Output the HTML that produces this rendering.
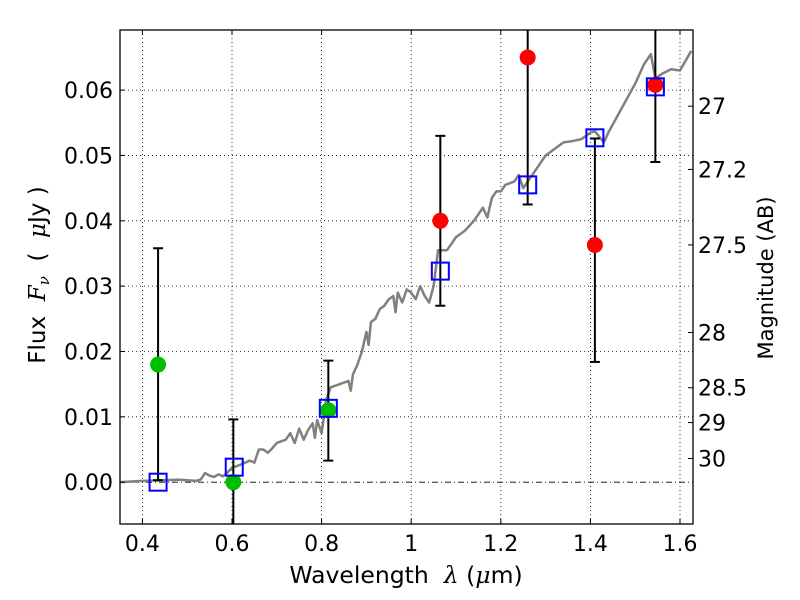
<!DOCTYPE html>
<html><head><meta charset="utf-8"><style>
body{margin:0;background:#fff;}
svg{display:block;font-family:"DejaVu Sans","Liberation Sans",sans-serif;}
</style></head><body>
<svg id="chart" width="800" height="600" viewBox="0 0 800 600" xmlns="http://www.w3.org/2000/svg">
<rect width="800" height="600" fill="#fff"/>
<g id="grid"></g>
<g id="spec"></g>
<g id="marks"></g>
<g id="axes"></g>
<text x="406" y="583" font-size="23.5" text-anchor="middle" xml:space="preserve">Wavelength  <tspan font-style="italic" font-family="DejaVu Serif,serif">λ</tspan> (<tspan font-style="italic" font-family="DejaVu Serif,serif">μ</tspan>m)</text>
<text transform="translate(45,275) rotate(-90)" font-size="23" text-anchor="middle" xml:space="preserve">Flux  <tspan font-style="italic" font-family="DejaVu Serif,serif">F<tspan font-size="15" dy="4">ν</tspan></tspan><tspan dy="-4">  (  </tspan><tspan font-style="italic" font-family="DejaVu Serif,serif">μ</tspan>Jy )</text>
<text transform="translate(773,278) rotate(-90)" font-size="21" text-anchor="middle">Magnitude (AB)</text>
</svg>
<script>
const xTicks=[0.4,0.6,0.8,1.0,1.2,1.4,1.6];
const xTickLabels=["0.4","0.6","0.8","1","1.2","1.4","1.6"];
const yTicks=[0,0.01,0.02,0.03,0.04,0.05,0.06];
const yTickLabels=["0.00","0.01","0.02","0.03","0.04","0.05","0.06"];
const magTicks=[27,27.2,27.5,28,28.5,29,30];
const magTickLabels=["27","27.2","27.5","28","28.5","29","30"];
const specWave=[0.35,0.40,0.45,0.48,0.50,0.52,0.53,0.54,0.55,0.56,0.57,0.58,0.59,0.60,0.62,0.63,0.64,0.65,0.66,0.67,0.68,0.69,0.70,0.72,0.73,0.74,0.75,0.76,0.77,0.78,0.785,0.79,0.80,0.805,0.81,0.82,0.84,0.86,0.865,0.87,0.88,0.89,0.90,0.905,0.91,0.92,0.93,0.94,0.95,0.96,0.965,0.97,0.98,0.99,1.00,1.01,1.02,1.03,1.04,1.05,1.06,1.07,1.08,1.09,1.10,1.12,1.14,1.16,1.17,1.18,1.19,1.2,1.21,1.23,1.24,1.25,1.26,1.28,1.30,1.32,1.34,1.36,1.38,1.40,1.41,1.43,1.44,1.46,1.48,1.50,1.52,1.535,1.545,1.56,1.58,1.60,1.625];
const specFlux=[0,0.0002,0.0003,0.0004,0.0003,0.0002,0.0004,0.0014,0.0010,0.0008,0.0012,0.0009,0.0015,0.0022,0.0027,0.0030,0.0033,0.0030,0.0050,0.0050,0.0045,0.0052,0.0060,0.0065,0.0075,0.0060,0.0082,0.0065,0.0080,0.0090,0.0068,0.0095,0.0075,0.0100,0.0125,0.0145,0.0150,0.0155,0.0140,0.0165,0.0180,0.0200,0.0230,0.0210,0.0245,0.0250,0.0265,0.0270,0.0280,0.0285,0.0260,0.0290,0.0275,0.0295,0.0290,0.0280,0.0300,0.0285,0.0275,0.0300,0.0355,0.0355,0.0355,0.0365,0.0375,0.0385,0.0400,0.0420,0.0405,0.0435,0.0445,0.0445,0.0455,0.0460,0.0470,0.0450,0.0460,0.0480,0.0500,0.0510,0.0520,0.0522,0.0525,0.0535,0.0537,0.0520,0.0535,0.0560,0.0585,0.0610,0.0640,0.0655,0.0618,0.0625,0.0632,0.0630,0.0660];
const greenWave=[0.435,0.603,0.815];
const greenFlux=[0.018,0.0000,0.011];
const greenLo=[0.0003,-0.02,0.0033];
const greenHi=[0.0358,0.0096,0.0186];
const redWave=[1.065,1.26,1.41,1.545];
const redFlux=[0.040,0.065,0.0363,0.0608];
const redLo=[0.027,0.0425,0.0184,0.049];
const redHi=[0.053,0.09,0.0526,0.09];
const modelWave=[0.435,0.605,0.815,1.065,1.26,1.41,1.545];
const modelFlux=[0.0000,0.0023,0.0113,0.0323,0.0455,0.0527,0.0605];

const L=120,R=693,T=30,B=524;
const xMin=0.35,xMax=1.629,yMin=-0.0064,yMax=0.0692;
const X=v=>L+(v-xMin)/(xMax-xMin)*(R-L);
const Y=v=>B-(v-yMin)/(yMax-yMin)*(B-T);
const magToFlux=m=>Math.pow(10,(23.9-m)/2.5);
const NS="http://www.w3.org/2000/svg";
function mk(tag,attrs,parent){const e=document.createElementNS(NS,tag);for(const k in attrs)e.setAttribute(k,attrs[k]);parent.appendChild(e);return e;}
const grid=document.getElementById('grid'),spec=document.getElementById('spec'),marks=document.getElementById('marks'),axes=document.getElementById('axes');
xTicks.forEach((v,i)=>{
 const x=X(v);
 const g=mk('line',{x1:x,x2:x,y1:T,y2:B,stroke:'#000','stroke-width':0.8,'stroke-dasharray':'1,3'},grid);
 
 
 const t=mk('line',{x1:x,x2:x,y1:B,y2:B-5,stroke:'#000','stroke-width':1},axes);
 
 
 const t2=mk('line',{x1:x,x2:x,y1:T,y2:T+5,stroke:'#000','stroke-width':1},axes);
 
 
 const lb=mk('text',{x:x,y:B+27,'font-size':22,'text-anchor':'middle'},axes);
 lb.textContent=xTickLabels[i];
 
 
});
yTicks.forEach((v,i)=>{
 const y=Y(v);
 const g=mk('line',{x1:L,x2:R,y1:y,y2:y,stroke:'#000','stroke-width':0.8,'stroke-dasharray':v===0?'6,3,1,3':'1,3'},grid);
 
 
 const t=mk('line',{x1:L,x2:L+5,y1:y,y2:y,stroke:'#000','stroke-width':1},axes);
 
 
 const lb=mk('text',{x:L-7,y:y+8,'font-size':22,'text-anchor':'end'},axes);
 lb.textContent=yTickLabels[i];
 
 
});
magTicks.forEach((m,i)=>{
 const y=Y(magToFlux(m));
 const t=mk('line',{x1:R,x2:R-5,y1:y,y2:y,stroke:'#000','stroke-width':1},axes);
 
 
 const lb=mk('text',{x:R+5,y:y+8,'font-size':22,'text-anchor':'start'},axes);
 lb.textContent=magTickLabels[i];
 
 
});
const frame=mk('rect',{x:L,y:T,width:R-L,height:B-T,fill:'none',stroke:'#000','stroke-width':1.3},axes);


const defs=mk('defs',{},document.getElementById('chart'));
const cp=mk('clipPath',{id:'pc'},defs);mk('rect',{x:L,y:T,width:R-L,height:B-T},cp);
spec.setAttribute('clip-path','url(#pc)');marks.setAttribute('clip-path','url(#pc)');
const sp=mk('polyline',{points:specWave.map((w,i)=>X(w)+','+Y(specFlux[i])).join(' '),fill:'none',stroke:'#808080','stroke-width':2.5,'stroke-linejoin':'round'},spec);


function errbar(w,lo,hi,name){
 const x=X(w);
 const l=mk('line',{x1:x,x2:x,y1:Y(lo),y2:Y(hi),stroke:'#000','stroke-width':2},marks);
 
 
 [lo,hi].forEach(v=>{const c=mk('line',{x1:x-5,x2:x+5,y1:Y(v),y2:Y(v),stroke:'#000','stroke-width':2},marks);
 
 });
}
greenWave.forEach((w,i)=>{
 errbar(w,greenLo[i],greenHi[i],'green-errorbar');
});
redWave.forEach((w,i)=>{
 errbar(w,redLo[i],redHi[i],'red-errorbar');
});
greenWave.forEach((w,i)=>{
 const c=mk('circle',{cx:X(w),cy:Y(greenFlux[i]),r:8,fill:'#00bf00'},marks);
 
 
});
redWave.forEach((w,i)=>{
 const c=mk('circle',{cx:X(w),cy:Y(redFlux[i]),r:8,fill:'#ff0000'},marks);
 
 
});
modelWave.forEach((w,i)=>{
 const s=mk('rect',{x:X(w)-8.5,y:Y(modelFlux[i])-8.5,width:17,height:17,fill:'none',stroke:'#0000ff','stroke-width':2},marks);
 
 
});
</script>
</body></html>
